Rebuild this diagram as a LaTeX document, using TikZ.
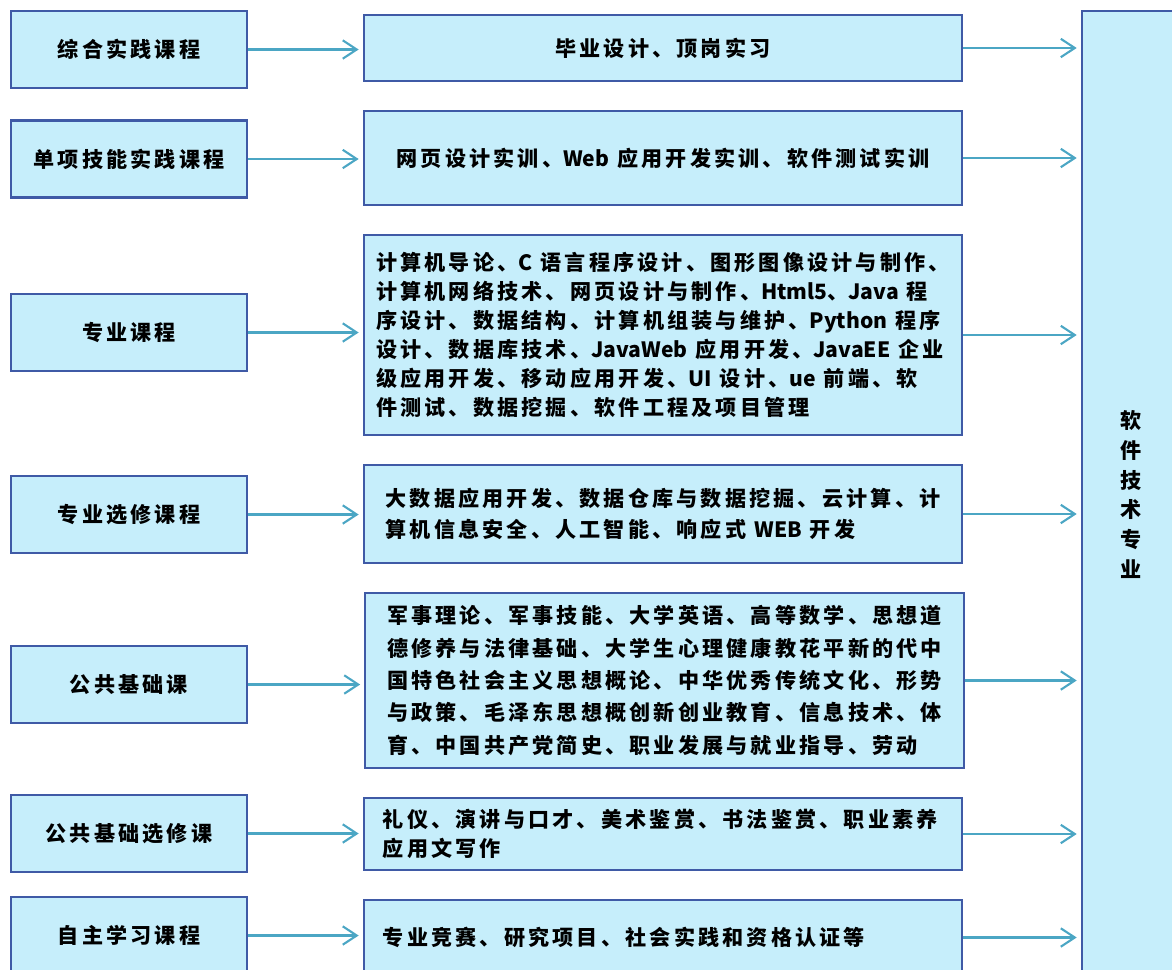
\documentclass[tikz,border=0pt]{standalone}
\usepackage{fontspec}
\setmainfont{Noto Sans CJK SC}[LetterSpace=15.0]
\newfontfamily\latin{Noto Sans CJK SC}[LetterSpace=0.0]
\usetikzlibrary{arrows.meta}
\definecolor{boxfill}{HTML}{C6EEFB}
\definecolor{boxline}{HTML}{3F5AA6}
\definecolor{arrowline}{HTML}{4BA6C4}
\newcommand{\lt}[1]{{\latin\bfseries #1}}

\begin{document}
\begin{tikzpicture}[x=0.025cm,y=-0.025cm,
    every node/.style={font=\fontsize{15pt}{20.5pt}\selectfont\bfseries},
    kind/.style={draw=boxline,fill=boxfill,line width=1.5pt,minimum width=5.9cm,minimum height=1.925cm,inner sep=0pt},
    course/.style={draw=boxline,fill=boxfill,line width=1.5pt,minimum width=14.95cm,inner sep=0pt,align=left},
    link/.style={draw=arrowline,line width=1.5pt,-{Straight Barb[length=3.5mm,width=4.6mm]},shorten >=3pt}]
  \useasboundingbox (0,0) rectangle (1172,969);
  \clip (0,0) rectangle (1172,969);
  % course kinds
  \node[kind] (k1) at (129,49.5) {综合实践课程};
  \node[kind] (k2) at (129,159) {单项技能实践课程};
  \node[kind] (k3) at (129,332.5) {专业课程};
  \node[kind] (k4) at (129,514.5) {专业选修课程};
  \node[kind] (k5) at (129,684.5) {公共基础课};
  \node[kind] (k6) at (129,833.5) {公共基础选修课};
  \node[kind] (k7) at (129,935.5) {自主学习课程};
  % course lists
  \node[course,minimum height=1.65cm] (c1) at (663,48) {毕业设计、顶岗实习};
  \node[course,minimum height=2.35cm] (c2) at (663,158) {网页设计实训、\lt{Web} 应用开发实训、软件测试实训};
  \node[course,minimum height=5cm] (c3) at (663,335) {计算机导论、\lt{C} 语言程序设计、图形图像设计与制作、\\
    计算机网络技术、网页设计与制作、\lt{Html5}、\lt{Java} 程\\
    序设计、数据结构、计算机组装与维护、\lt{Python} 程序\\
    设计、数据库技术、\lt{JavaWeb} 应用开发、\lt{JavaEE} 企业\\
    级应用开发、移动应用开发、\lt{UI} 设计、\lt{ue} 前端、软\\
    件测试、数据挖掘、软件工程及项目管理};
  \node[course,minimum height=2.45cm,font=\fontsize{15pt}{21.5pt}\selectfont\bfseries] (c4) at (663,514) {大数据应用开发、数据仓库与数据挖掘、云计算、计\\
    算机信息安全、人工智能、响应式 \lt{WEB} 开发};
  \node[course,minimum height=4.375cm,font=\fontsize{15pt}{23pt}\selectfont\bfseries] (c5) at (664.5,680.5) {军事理论、军事技能、大学英语、高等数学、思想道\\
    德修养与法律基础、大学生心理健康教花平新的代中\\
    国特色社会主义思想概论、中华优秀传统文化、形势\\
    与政策、毛泽东思想概创新创业教育、信息技术、体\\
    育、中国共产党简史、职业发展与就业指导、劳动};
  \node[course,minimum height=1.8cm,text width=14cm] (c6) at (663,834) {礼仪、演讲与口才、美术鉴赏、书法鉴赏、职业素养\\
    应用文写作};
  \node[course,minimum height=1.875cm,text width=14cm] (c7) at (663,937.5) {专业竞赛、研究项目、社会实践和资格认证等};
  % major
  \node[draw=boxline,fill=boxfill,line width=1.5pt,minimum width=2.45cm,minimum height=24.175cm,align=center,
    font=\fontsize{15pt}{21.3pt}\selectfont\bfseries] (major) at (1131,494.5) {软\\件\\技\\术\\专\\业};
  \foreach \i in {1,...,7} {
    \draw[link] (k\i.east) -- (k\i.east -| c\i.west);
    \draw[link] (c\i.east) -- (c\i.east -| major.west);
  }
\end{tikzpicture}
\end{document}
